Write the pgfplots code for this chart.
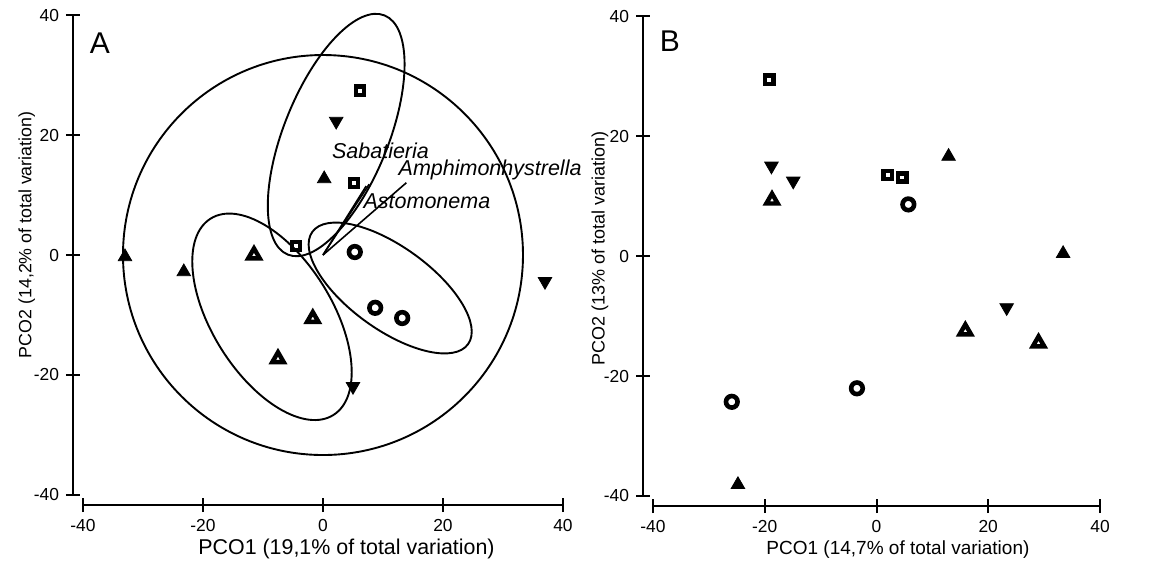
\documentclass[border=0pt]{standalone}
\usepackage{fontspec}
\setmainfont{Liberation Sans}
\usepackage{pgfplots}
\pgfplotsset{compat=1.18}

\pgfplotsset{
  prism/.style={
    scale only axis,
    height=240pt,
    xmin=-40, xmax=40, ymin=-40, ymax=40,
    xtick={-40,-20,...,40}, ytick={-40,-20,...,40},
    axis x line=bottom, axis y line=left,
    axis line style={-, line width=1pt},
    axis line shift=5pt,
    tick align=center, major tick length=7pt,
    every tick/.style={black, line width=1pt},
    tick label style={font=\fontsize{8.7}{10}\selectfont},
    /pgf/number format/assume math mode=true,
    clip=false,
  },
  upfill/.style={only marks, mark=triangle*, mark size=3.9pt, black},
  upopen/.style={only marks, mark=triangle, mark size=3.3pt, black, mark options={line width=2.2pt}},
  sq/.style={only marks, mark=square, mark size=2.05pt, black, mark options={line width=2.2pt}},
  circ/.style={only marks, mark=o, mark size=2.9pt, black, mark options={line width=2.3pt}},
  down/.style={only marks, mark=triangle*, mark size=3.9pt, black, mark options={rotate=180}},
}

\begin{document}
\begin{tikzpicture}
\path[use as bounding box] (-41.5pt,-34.5pt) rectangle (535pt,247.5pt);

% panel A
\begin{axis}[prism, width=240pt, at={(0pt,0pt)}, anchor=south west,
  xlabel={PCO1 (19,1\% of total variation)},
  ylabel={PCO2 (14,2\% of total variation)},
  xlabel style={font=\fontsize{10.7}{12}\selectfont, at={(axis description cs:0.549,-0.1125)}, anchor=center},
  ylabel style={font=\fontsize{8.9}{10}\selectfont, at={(axis description cs:-0.117,0.542)}, anchor=center}]
\draw[line width=0.95pt] (axis cs:0,0) circle[radius=100pt];
\draw[line width=0.95pt, rotate around={68:(axis cs:2.2,20)}] (axis cs:2.2,20) ellipse[x radius=64.5pt, y radius=26.1pt];
\draw[line width=0.95pt, rotate around={-58:(axis cs:-8.5,-10.3)}] (axis cs:-8.5,-10.3) ellipse[x radius=57.9pt, y radius=30pt];
\draw[line width=0.95pt, rotate around={-35.8:(axis cs:11.2,-5.5)}] (axis cs:11.2,-5.5) ellipse[x radius=48pt, y radius=20.7pt];
\draw[line width=0.8pt] (axis cs:0,0) -- (axis cs:7.7,11.8);
\draw[line width=0.8pt] (axis cs:0,0) -- (axis cs:7.2,11.5);
\draw[line width=0.8pt] (axis cs:0,0) -- (axis cs:13.9,12.05);
\node[anchor=base west, inner sep=0pt, font=\itshape\fontsize{10.75}{12}\selectfont] at (axis cs:1.45,16.1) {Sabatieria};
\node[anchor=base west, inner sep=0pt, font=\itshape\fontsize{10.75}{12}\selectfont] at (axis cs:12.55,13.3) {Amphimonhystrella};
\node[anchor=base west, inner sep=0pt, font=\itshape\fontsize{10.75}{12}\selectfont] at (axis cs:6.7,7.8) {Astomonema};
\node[font=\fontsize{15}{18}\selectfont] at (axis cs:-37.2,35.3) {A};
\addplot[upfill] coordinates {(-33,-0.3) (-23.2,-2.8) (0.2,12.7)};
\addplot[upopen] coordinates {(-11.5,0) (-1.7,-10.6) (-7.5,-17.3)};
\addplot[sq] coordinates {(-4.5,1.5) (5.2,12) (6.2,27.4)};
\addplot[circ] coordinates {(5.3,0.5) (8.7,-8.8) (13.2,-10.5)};
\addplot[down] coordinates {(2.2,22.3) (37,-4.4) (5,-21.9)};
\end{axis}

% panel B
\begin{axis}[prism, width=223.5pt, at={(285pt,-0.5pt)}, anchor=south west,
  xlabel={PCO1 (14,7\% of total variation)},
  ylabel={PCO2 (13\% of total variation)},
  xlabel style={font=\fontsize{9.5}{11}\selectfont, at={(axis description cs:0.548,-0.1125)}, anchor=center},
  ylabel style={font=\fontsize{9}{10}\selectfont, at={(axis description cs:-0.1186,0.515)}, anchor=center}]
\node[font=\fontsize{15}{18}\selectfont] at (axis cs:-37,35.8) {B};
\addplot[upfill] coordinates {(12.9,16.6) (33.4,0.4) (-24.8,-38.1)};
\addplot[upopen] coordinates {(-18.7,9.3) (15.9,-12.5) (29.0,-14.5)};
\addplot[sq] coordinates {(-19.2,29.4) (2.0,13.5) (4.6,13.1)};
\addplot[circ] coordinates {(5.7,8.6) (-3.5,-22.05) (-25.9,-24.3)};
\addplot[down] coordinates {(-18.8,15.0) (-14.9,12.5) (23.3,-8.6)};
\end{axis}
\end{tikzpicture}
\end{document}
